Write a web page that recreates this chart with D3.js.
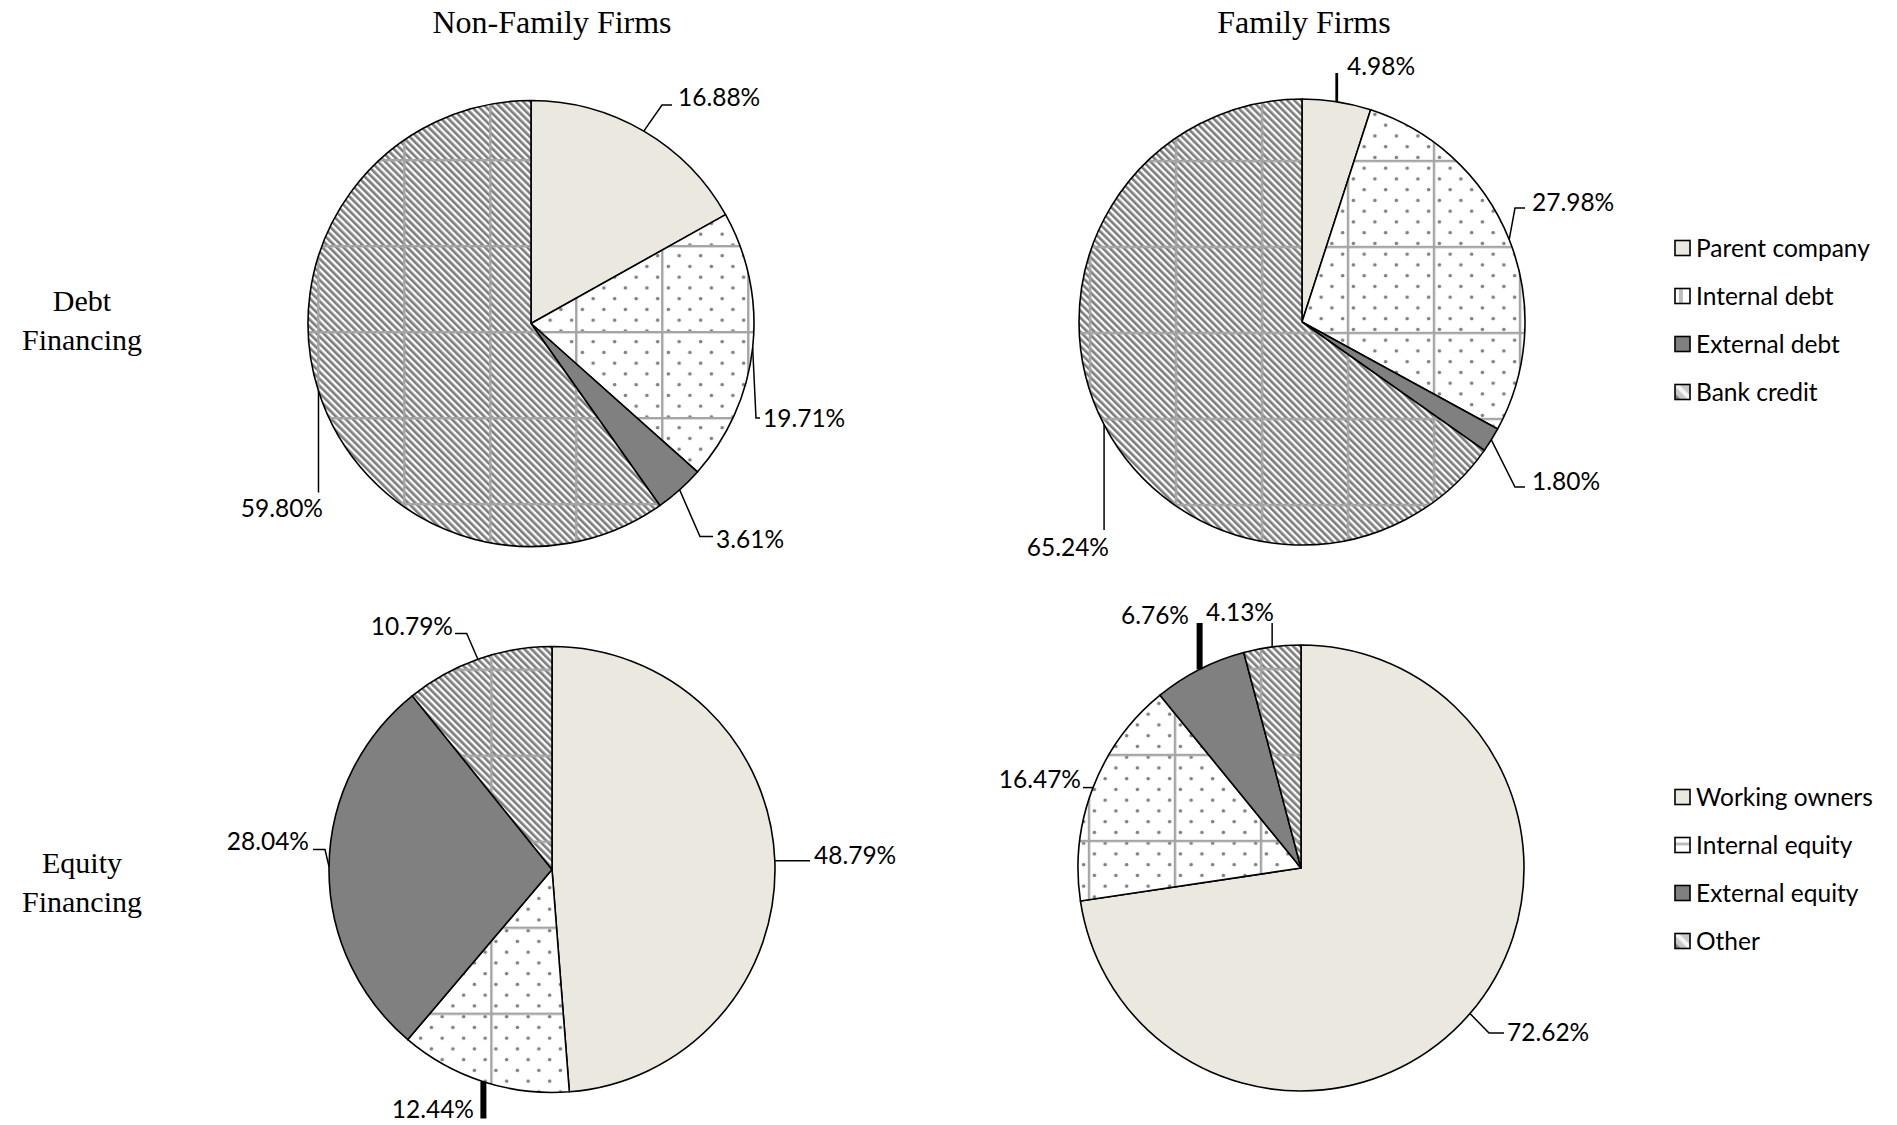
<!DOCTYPE html>
<html>
<head>
<meta charset="utf-8">
<script src="https://cdn.jsdelivr.net/npm/d3@7"></script>
<style>
  html, body { margin: 0; padding: 0; background: #fff; }
  svg { display: block; }
</style>
</head>
<body>
<svg id="chart" width="1897" height="1125"></svg>
<script>
// ---------- DATA ----------
const columnTitles = ["Non-Family Firms", "Family Firms"];
const rowTitles = [["Debt", "Financing"], ["Equity", "Financing"]];
const debtCategories = ["Parent company", "Internal debt", "External debt", "Bank credit"];
const equityCategories = ["Working owners", "Internal equity", "External equity", "Other"];
const nonFamilyDebt = [16.88, 19.71, 3.61, 59.80];
const familyDebt = [4.98, 27.98, 1.80, 65.24];
const nonFamilyEquity = [48.79, 12.44, 28.04, 10.79];
const familyEquity = [72.62, 16.47, 6.76, 4.13];

// ---------- LAYOUT ----------
const W = 1897, H = 1125, R = 223;
const svg = d3.select("#chart").attr("width", W).attr("height", H);
const defs = svg.append("defs");

const BEIGE = "#ebe9df", GREY = "#808080", GRID = "#a4a4a4";
const LABEL_FONT = "Lato, 'Open Sans', sans-serif";
const SERIF = "'Liberation Serif', 'Times New Roman', serif";

// stripes "\" direction
const st = defs.append("pattern").attr("id", "stripes")
  .attr("patternUnits", "userSpaceOnUse").attr("width", 5).attr("height", 10)
  .attr("patternTransform", "rotate(-45)");
st.append("rect").attr("width", 5).attr("height", 10).attr("fill", "#fbfbfb");
st.append("rect").attr("width", 2.6).attr("height", 10).attr("fill", "#7c7c7c");

// staggered dots
const dt = defs.append("pattern").attr("id", "dots")
  .attr("patternUnits", "userSpaceOnUse").attr("width", 21.5).attr("height", 21.5)
  .attr("x", 3).attr("y", 2);
dt.append("circle").attr("cx", 5.4).attr("cy", 5.4).attr("r", 1.8).attr("fill", "#808080");
dt.append("circle").attr("cx", 16.15).attr("cy", 16.15).attr("r", 1.8).attr("fill", "#808080");

const pies = [
  { data: nonFamilyDebt, cx: 531, cy: 323.5, grid: [-40.7, 8.7],
    labels: [
      { pts: [[131, -218.5], [141, -218.5]], tx: 147, ty: -226, anchor: "start" },
      { pts: [[225, 94.5], [229, 94.5]], tx: 232, ty: 95, anchor: "start" },
      { pts: [[169, 213], [182, 213]], tx: 185, ty: 216, anchor: "start" },
      { pts: [[null, 169]], tx: -208, ty: 185, anchor: "end" }
    ] },
  { data: familyDebt, cx: 1302, cy: 322, grid: [-40, 11],
    labels: [
      { pts: [[null, -249]], tx: 45, ty: -256, anchor: "start", w: 2.8 },
      { pts: [[213, -114], [223, -114]], tx: 230, ty: -120, anchor: "start" },
      { pts: [[213, 165], [223, 165]], tx: 230, ty: 159, anchor: "start" },
      { pts: [[null, 208]], tx: -193, ty: 225, anchor: "end" }
    ] },
  { data: nonFamilyEquity, cx: 552, cy: 869.5, grid: [-60.6, 58.3],
    labels: [
      { pts: [[258, null]], tx: 262, ty: -14, anchor: "start" },
      { pts: [[null, 249]], tx: -78, ty: 240, anchor: "end", w: 6 },
      { pts: [[-227, -20], [-239, -20]], tx: -243, ty: -28, anchor: "end" },
      { pts: [[-85.3, -236], [-97, -236]], tx: -99, ty: -243, anchor: "end" }
    ] },
  { data: familyEquity, cx: 1301, cy: 868, grid: [-40, 59],
    labels: [
      { pts: [[188, 165], [203, 165]], tx: 206, ty: 164, anchor: "start" },
      { pts: [[-218, null]], tx: -220, ty: -89, anchor: "end" },
      { pts: [[null, -245]], tx: -112, ty: -253, anchor: "end", w: 6 },
      { pts: [[null, -245]], tx: -27, ty: -256, anchor: "end" }
    ] }
];

const pie = d3.pie().sort(null).value(d => d).startAngle(0).endAngle(2 * Math.PI);
const arc = d3.arc().innerRadius(0).outerRadius(R);

pies.forEach((p, pi) => {
  // pattern coordinates are in the local (pie-centred) user space
  const gp = defs.append("pattern").attr("id", "grid" + pi)
    .attr("patternUnits", "userSpaceOnUse").attr("width", 86).attr("height", 86)
    .attr("x", p.grid[0] - 1.2).attr("y", p.grid[1] - 1.2);
  gp.append("rect").attr("width", 2.4).attr("height", 86).attr("fill", GRID);
  gp.append("rect").attr("width", 86).attr("height", 2.4).attr("fill", GRID);

  const g = svg.append("g").attr("transform", `translate(${p.cx},${p.cy})`);
  const arcs = pie(p.data);
  const slices = g.selectAll("g.slice").data(arcs).join("g").attr("class", "slice");
  slices.append("path").attr("d", arc)
    .attr("fill", (d, i) => i === 0 ? BEIGE : i === 2 ? GREY : i === 1 ? "#fff" : "url(#stripes)");
  slices.filter((d, i) => i === 1).append("path").attr("d", arc).attr("fill", "url(#dots)");
  slices.filter((d, i) => i === 1 || i === 3).append("path").attr("d", arc)
    .attr("fill", "url(#grid" + pi + ")");
  slices.append("path").attr("d", arc).attr("fill", "none")
    .attr("stroke", "#000").attr("stroke-width", 1.6).attr("stroke-linejoin", "round");

  // leaders + labels
  arcs.forEach((a, i) => {
    const L = p.labels[i];
    const mid = (a.startAngle + a.endAngle) / 2;
    const pts = [[R * Math.sin(mid), -R * Math.cos(mid)]];
    L.pts.forEach(q => {
      const prev = pts[pts.length - 1];
      pts.push([q[0] === null ? prev[0] : q[0], q[1] === null ? prev[1] : q[1]]);
    });
    g.append("path").attr("d", d3.line()(pts)).attr("fill", "none")
      .attr("stroke", "#000").attr("stroke-width", L.w || 1.5);
    g.append("text").attr("x", L.tx).attr("y", L.ty).attr("dy", "0.36em")
      .attr("text-anchor", L.anchor)
      .attr("font-family", LABEL_FONT).attr("font-size", 24.5)
      .attr("fill", "#000")
      .text(p.data[i].toFixed(2) + "%");
  });
});

// column titles
const titleX = [552, 1304];
svg.selectAll("text.coltitle").data(columnTitles).join("text").attr("class", "coltitle")
  .attr("x", (d, i) => titleX[i]).attr("y", 33).attr("text-anchor", "middle")
  .attr("font-family", SERIF).attr("font-size", 32)
  .text(d => d);

// row titles
const rowBase = [[310.7, 350], [873.3, 911.7]];
rowTitles.forEach((lines, r) => {
  lines.forEach((t, k) => {
    svg.append("text").attr("x", 82).attr("y", rowBase[r][k]).attr("text-anchor", "middle")
      .attr("font-family", SERIF).attr("font-size", 30)
      .text(t);
  });
});

// legend swatch patterns
const swI = defs.append("pattern").attr("id", "swIntD").attr("patternUnits", "objectBoundingBox")
  .attr("width", 1).attr("height", 1);
swI.append("rect").attr("width", 15).attr("height", 15).attr("fill", "#fff");
swI.append("rect").attr("x", 4).attr("width", 4).attr("height", 15).attr("fill", "#bdbdbd");
const swE = defs.append("pattern").attr("id", "swIntE").attr("patternUnits", "objectBoundingBox")
  .attr("width", 1).attr("height", 1);
swE.append("rect").attr("width", 15).attr("height", 15).attr("fill", "#fff");
swE.append("rect").attr("y", 5).attr("width", 15).attr("height", 3).attr("fill", "#bdbdbd");
const swS = defs.append("pattern").attr("id", "swStr").attr("patternUnits", "objectBoundingBox")
  .attr("width", 1).attr("height", 1);
swS.append("rect").attr("width", 15).attr("height", 15).attr("fill", "#c8c8c8");
swS.append("path").attr("d", "M0,2 L13,15 L15,15 L15,11 L4,0 L0,0 Z").attr("fill", "#f4f4f4");
swS.append("path").attr("d", "M0,9 L6,15 L0,15 Z").attr("fill", "#808080");

const legends = [
  { cats: debtCategories, y0: 248, fills: [BEIGE, "url(#swIntD)", GREY, "url(#swStr)"] },
  { cats: equityCategories, y0: 797, fills: [BEIGE, "url(#swIntE)", GREY, "url(#swStr)"] }
];
legends.forEach(L => {
  const lg = svg.append("g");
  const rows = lg.selectAll("g").data(L.cats).join("g")
    .attr("transform", (d, i) => `translate(1675,${L.y0 + i * 48})`);
  rows.append("rect").attr("x", 0).attr("y", -7.5).attr("width", 15).attr("height", 15)
    .attr("fill", (d, i) => L.fills[i]).attr("stroke", "#000").attr("stroke-width", 1.6);
  rows.append("text").attr("x", 21).attr("y", 0).attr("dy", "0.36em")
    .attr("font-family", LABEL_FONT).attr("font-size", 24.5)
    .text(d => d);
});
</script>
</body>
</html>
